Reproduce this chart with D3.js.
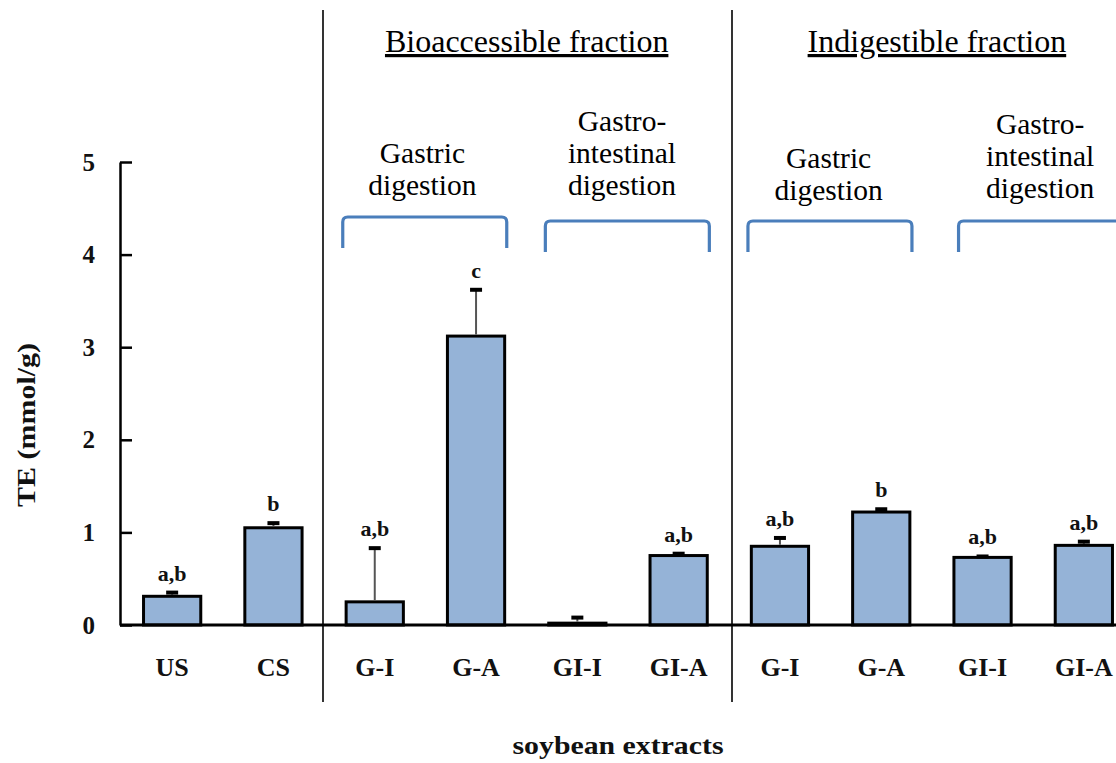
<!DOCTYPE html>
<html><head><meta charset="utf-8">
<script src="https://cdn.jsdelivr.net/npm/d3@7"></script>
<style>body{margin:0;background:#fff}svg{display:block}
.serif{font-family:"Liberation Serif","Times New Roman",serif}</style>
</head><body>
<svg id="c" width="1116" height="763"></svg>
<script>
const categories = ["US","CS","G-I","G-A","GI-I","GI-A","G-I","G-A","GI-I","GI-A"];
const values = [0.31, 1.05, 0.25, 3.12, 0.02, 0.75, 0.85, 1.22, 0.73, 0.86];
const errors = [0.04, 0.05, 0.58, 0.50, 0.06, 0.02, 0.09, 0.03, 0.01, 0.04];
const letters = ["a,b","b","a,b","c","","a,b","a,b","b","a,b","a,b"];
const yTicks = [0,1,2,3,4,5];
const fractions = [{name:"Bioaccessible fraction", from:2, to:5},{name:"Indigestible fraction", from:6, to:9}];
const digestions = [
  {lines:["Gastric","digestion"], from:2, to:3},
  {lines:["Gastro-","intestinal","digestion"], from:4, to:5},
  {lines:["Gastric","digestion"], from:6, to:7},
  {lines:["Gastro-","intestinal","digestion"], from:8, to:9}
];

const svg = d3.select("#c");
const idx = categories.map((d,i)=>i);
const x = d3.scaleBand().domain(idx).range([121.5, 1134.5]).paddingInner(0.435).paddingOuter(0.2175);
const y = d3.scaleLinear().domain([0,5]).range([625,162]);
const cx = i => x(i) + x.bandwidth()/2;

// dividers
[[1,2,-1],[5,6,3]].forEach(([a,b,o])=>{
  const xx = Math.round((cx(a)+cx(b))/2) + o;
  svg.append("line").attr("x1",xx).attr("x2",xx).attr("y1",10).attr("y2",702)
    .attr("stroke","#000").attr("stroke-width",1.6);
});

// y axis
const yAxis = d3.axisLeft(y).tickValues(yTicks).tickSizeInner(-12).tickSizeOuter(0).tickPadding(25).tickFormat(d3.format("d"));
const ga = svg.append("g").attr("transform","translate(120,0)").call(yAxis);
ga.attr("font-family",null).attr("font-size",null);
ga.select(".domain").attr("stroke","#000").attr("stroke-width",2.5);
ga.selectAll(".tick line").attr("stroke","#000").attr("stroke-width",2.5);
ga.selectAll(".tick text").attr("class","serif").attr("font-weight","bold").attr("font-size",25).attr("fill","#111");

// bars
svg.selectAll("rect.bar").data(idx).join("rect").attr("class","bar")
  .attr("x",i=>x(i)).attr("width",x.bandwidth())
  .attr("y",i=>y(values[i])).attr("height",i=>y(0)-y(values[i]))
  .attr("fill","#95b3d7").attr("stroke","#000").attr("stroke-width",3);

// error bars
svg.selectAll("line.err").data(idx).join("line").attr("class","err")
  .attr("x1",cx).attr("x2",cx).attr("y1",i=>y(values[i])-1.5).attr("y2",i=>y(values[i]+errors[i]))
  .attr("stroke","#555").attr("stroke-width",2);
svg.selectAll("line.cap").data(idx).join("line").attr("class","cap")
  .attr("x1",i=>cx(i)-6).attr("x2",i=>cx(i)+6).attr("y1",i=>y(values[i]+errors[i])).attr("y2",i=>y(values[i]+errors[i]))
  .attr("stroke","#000").attr("stroke-width",4);

// letters
svg.selectAll("text.let").data(idx.filter(i=>letters[i])).join("text").attr("class","let serif")
  .attr("x",cx).attr("y",i=>y(values[i]+errors[i])-12)
  .attr("text-anchor","middle").attr("font-weight","bold").attr("font-size",22).attr("fill","#111")
  .text(i=>letters[i]);

// baseline
svg.append("line").attr("x1",120).attr("x2",1116).attr("y1",y(0)).attr("y2",y(0)).attr("stroke","#000").attr("stroke-width",3);

// category labels
svg.selectAll("text.cat").data(idx).join("text").attr("class","cat serif")
  .attr("x",cx).attr("y",676).attr("text-anchor","middle")
  .attr("font-weight","bold").attr("font-size",26).attr("fill","#111")
  .text(i=>categories[i]);

// axis titles
svg.append("text").attr("class","serif").attr("x",618).attr("y",754).attr("text-anchor","middle")
  .attr("font-weight","bold").attr("font-size",25).attr("textLength",211).attr("lengthAdjust","spacingAndGlyphs")
  .attr("fill","#111").text("soybean extracts");
svg.append("text").attr("class","serif").attr("transform","translate(35,425) rotate(-90)").attr("text-anchor","middle")
  .attr("font-weight","bold").attr("font-size",26).attr("textLength",164).attr("lengthAdjust","spacingAndGlyphs")
  .attr("fill","#111").text("TE (mmol/g)");

// fraction headers
fractions.forEach((f,k)=>{
  const mx = (cx(f.from)+cx(f.to))/2 + (k===1?5:0);
  svg.append("text").attr("class","serif").attr("x",mx).attr("y",52).attr("text-anchor","middle")
    .attr("font-size",32).attr("text-decoration","underline").attr("fill","#000").text(f.name);
});

// digestion labels and brackets
const nudge = [-3,-6,-2,7];
const lastBases = [195,195,200,198];
digestions.forEach((d,k)=>{
  const mx = (cx(d.from)+cx(d.to))/2 + nudge[k];
  const n = d.lines.length;
  d.lines.forEach((ln,j)=>{
    svg.append("text").attr("class","serif").attr("x",mx).attr("y",lastBases[k]-(n-1-j)*32).attr("text-anchor","middle")
      .attr("font-size",29.5).attr("fill","#000").text(ln);
  });
  const x0 = cx(d.from) - (k===3?24:32), x1 = x0 + 164;
  const top = k===0?217:221, bot = top+31, r = 5;
  svg.append("path").attr("d",`M${x0},${bot} L${x0},${top+r} Q${x0},${top} ${x0+r},${top} L${x1-r},${top} Q${x1},${top} ${x1},${top+r} L${x1},${bot}`)
    .attr("fill","none").attr("stroke","#4a7ebb").attr("stroke-width",3.2);
});
</script>
</body></html>
